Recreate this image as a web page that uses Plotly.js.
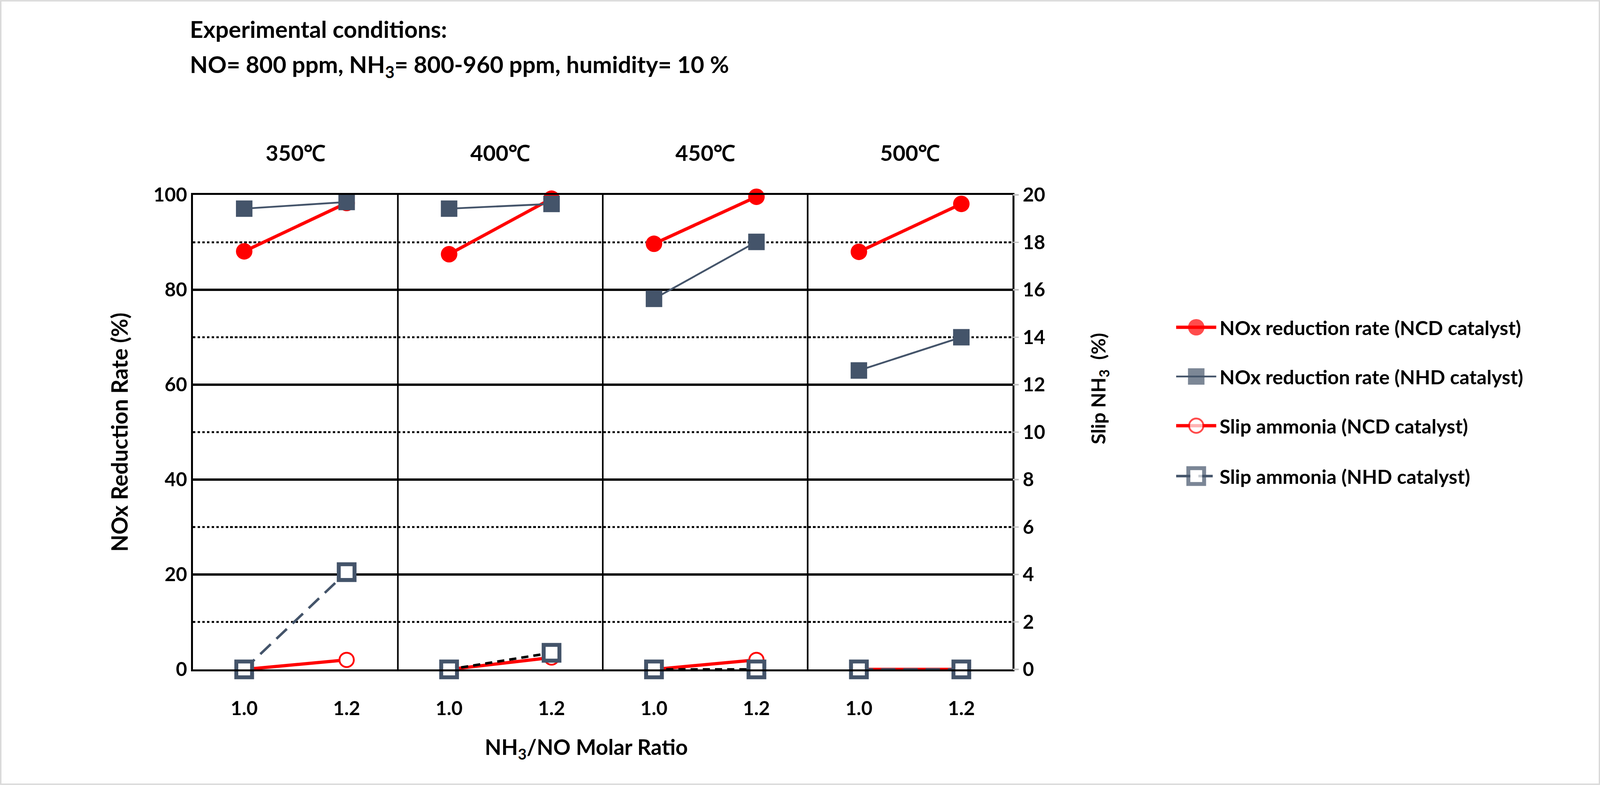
<!DOCTYPE html>
<html><head><meta charset="utf-8">
<script src="https://cdn.plot.ly/plotly-3.0.1.min.js"></script>
<style>html,body{margin:0;padding:0;background:#fff;overflow:hidden;} #chart{position:absolute;left:0;top:0;}</style>
</head><body><div id="chart"></div>
<script>
// ---- data ----
const temperatures = ["350℃", "400℃", "450℃", "500℃"];
const molarRatios = ["1.0", "1.2"];
// NOx reduction rate (%), left axis; two molar ratios per temperature panel
const noxNCD = [88.1, 98.3, 87.5, 99.2, 89.7, 99.6, 88.0, 98.1];
const noxNHD = [97.1, 98.5, 97.1, 98.1, 78.1, 90.1, 63.0, 70.0];
// Slip NH3 (%), right axis
const slipNCD = [0, 0.4, 0, 0.5, 0, 0.4, 0, 0];
const slipNHD = [0, 4.1, 0, 0.7, 0, 0, 0, 0];
const seriesNames = [
  "NOx reduction rate (NCD catalyst)",
  "NOx reduction rate (NHD catalyst)",
  "Slip ammonia (NCD catalyst)",
  "Slip ammonia (NHD catalyst)"
];

// ---- geometry (reference pixel space 4861 x 2010), fitted to the window ----
const W0 = 4861, H0 = 2010;
const vw = window.innerWidth || W0, vh = window.innerHeight || H0;
const sx = vw / W0, sy = vh / H0, sg = Math.sqrt(sx * sy);
const W = Math.floor(vw), H = Math.floor(vh);
const S = v => v * sg;
const L = 586, R = 3076, T = 499, B = 1714, RM = 100;
const PW = W0 - L - RM, PH = B - T;
const px = x => (x - L) / PW, py = y => (B - y) / PH;

// ---- styles ----
const RED = "#FF0000", SLATE = "#44546A";
const FONT = "Lato, 'Open Sans', sans-serif";
const dash = (a, b) => S(a) + "px," + S(b) + "px";
const nhdSlipLineColor = [SLATE, "#000000", "#000000", SLATE];
const nhdSlipDash = [dash(40, 22), dash(20, 14), dash(20, 14), dash(40, 22)];

const styleFns = [
  p => ({line: {color: RED, width: S(9)},
         marker: {symbol: "circle", size: S(46), color: RED, line: {width: 0}}}),
  p => ({line: {color: SLATE, width: S(5)},
         marker: {symbol: "square", size: S(46), color: SLATE, line: {width: 0}}}),
  p => ({line: {color: RED, width: S(9)},
         marker: {symbol: "circle", size: S(40), color: "#FFFFFF", line: {color: RED, width: S(5)}}}),
  p => ({line: {color: nhdSlipLineColor[p], width: S(7), dash: nhdSlipDash[p]},
         marker: {symbol: "square", size: S(44), color: "#FFFFFF", line: {color: SLATE, width: S(11)}}})
];
const seriesValues = [noxNCD, noxNHD, slipNCD, slipNHD];
const seriesAxis = ["y", "y", "y2", "y2"];

const nPer = molarRatios.length;
const xPos = (p, k) => p * nPer + k + 0.5;

const traces = [];
seriesValues.forEach((vals, si) => {
  temperatures.forEach((t, p) => {
    const xs = [], ys = [];
    molarRatios.forEach((r, k) => { xs.push(xPos(p, k)); ys.push(vals[p * nPer + k]); });
    traces.push(Object.assign({
      type: "scatter", mode: "lines+markers",
      x: xs, y: ys, xaxis: "x", yaxis: seriesAxis[si],
      name: seriesNames[si] + " " + t, showlegend: false,
      cliponaxis: false, hoverinfo: "skip"
    }, styleFns[si](p)));
  });
});

// ---- legend drawn as sample traces on a small helper axis ----
const legendRows = [838, 964, 1090, 1219];
seriesNames.forEach((nm, si) => {
  const st = styleFns[si](0);
  const mk = st.marker;
  traces.push({
    type: "scatter", mode: "lines+markers", xaxis: "x3", yaxis: "y3",
    x: [0, 1, 2], y: [legendRows[si], legendRows[si], legendRows[si]],
    name: nm, showlegend: false, cliponaxis: false, hoverinfo: "skip",
    line: st.line,
    marker: {symbol: mk.symbol, color: mk.color, size: [0, mk.size, 0],
             line: {color: mk.line.color || mk.color, width: [0, mk.line.width || 0, 0]}}
  });
});

const tickvals = [], ticktext = [];
temperatures.forEach((t, p) => molarRatios.forEach((r, k) => { tickvals.push(xPos(p, k)); ticktext.push(r); }));

const annotations = [];
temperatures.forEach((t, p) => annotations.push({
  text: "<b>" + t + "</b>", xref: "x", yref: "paper", x: p * nPer + nPer / 2, y: 1,
  yanchor: "middle", yshift: 109 * sy, showarrow: false, font: {family: FONT, size: S(61), color: "#000"}
}));
seriesNames.forEach((nm, si) => annotations.push({
  text: "<b>" + nm + "</b>", xref: "x3", yref: "y3", x: 2, y: legendRows[si],
  xanchor: "left", yanchor: "middle", xshift: 8 * sx, showarrow: false,
  font: {family: FONT, size: S(55), color: "#000"}
}));
annotations.push(
  {text: "<b>Experimental conditions:</b>", xref: "paper", yref: "paper", x: px(574), y: py(74),
   xanchor: "left", yanchor: "middle", showarrow: false, font: {family: FONT, size: S(65), color: "#000"}},
  {text: "<b>NO= 800 ppm, NH<sub>3</sub>= 800-960 ppm, humidity= 10 %</b>", xref: "paper", yref: "paper", x: px(574), y: py(168),
   xanchor: "left", yanchor: "middle", showarrow: false, font: {family: FONT, size: S(65), color: "#000"}},
  {text: "<b>NH<sub>3</sub>/NO Molar Ratio</b>", xref: "paper", yref: "paper", x: px(1781), y: py(1916),
   xanchor: "center", yanchor: "middle", showarrow: false, font: {family: FONT, size: S(60), color: "#000"}},
  {text: "<b>Slip NH<sub>3</sub>\u00A0\u00A0(%)</b>", xref: "paper", yref: "paper", x: px(3339), y: py(995),
   xanchor: "center", yanchor: "middle", textangle: -90, showarrow: false, font: {family: FONT, size: S(55), color: "#000"}}
);

const shapes = [];
for (let p = 1; p < temperatures.length; p++) {
  shapes.push({type: "line", xref: "x", yref: "y", x0: p * nPer, x1: p * nPer, y0: 0, y1: 100,
    line: {color: "#000", width: S(4.5)}, layer: "below"});
}
shapes.push({type: "rect", xref: "paper", yref: "paper",
  x0: px(2), x1: px(W0 - 2), y0: py(H0 - 2), y1: py(2),
  line: {color: "#D9D9D9", width: S(4)}, fillcolor: "rgba(0,0,0,0)", layer: "below"});

const tickFont = {family: FONT, size: S(54), color: "#000", weight: "bold"};

const layout = {
  width: W, height: H,
  paper_bgcolor: "#FFFFFF", plot_bgcolor: "rgba(0,0,0,0)",
  margin: {l: L * sx, r: RM * sx, t: T * sy, b: (H0 - B) * sy, pad: 0, autoexpand: false},
  font: {family: FONT, size: S(54), color: "#000"},
  showlegend: false,
  xaxis: {domain: [0, (R - L) / PW], anchor: "y",
    range: [0, temperatures.length * nPer], tickmode: "array", tickvals: tickvals, ticktext: ticktext,
    showgrid: false, zeroline: false, showline: true, linecolor: "#000", linewidth: S(5.5), mirror: true,
    ticks: "", tickfont: tickFont, ticklabelstandoff: 52 * sy, fixedrange: true},
  yaxis: {domain: [0, 1], anchor: "x", range: [0, 100], tick0: 0, dtick: 20,
    showgrid: true, gridcolor: "#000", gridwidth: S(5.5),
    minor: {dtick: 10, showgrid: true, gridcolor: "#000", gridwidth: S(5), griddash: dash(7, 6)},
    showline: true, linecolor: "#000", linewidth: S(5.5), mirror: true, zeroline: false,
    ticks: "", tickfont: tickFont, ticklabelstandoff: 50 * sx,
    title: {text: "<b>NOx Reduction Rate (%)</b>", font: {family: FONT, size: S(62), color: "#000"}, standoff: 57 * sx}},
  yaxis2: {range: [0, 20], tick0: 0, dtick: 2, overlaying: "y", side: "right", anchor: "x",
    showgrid: false, zeroline: false, showline: false,
    ticks: "outside", ticklen: 18 * sx, tickwidth: S(4), tickcolor: "#BFBFBF",
    tickfont: tickFont, ticklabelstandoff: 66 * sx},
  xaxis3: {domain: [px(3573), px(3695)], anchor: "y3", range: [0, 2], visible: false, fixedrange: true},
  yaxis3: {domain: [0, 1], anchor: "x3", range: [B, T], visible: false, fixedrange: true},
  annotations: annotations,
  shapes: shapes
};

Plotly.newPlot("chart", traces, layout, {staticPlot: true, displayModeBar: false});
</script>
</body></html>
